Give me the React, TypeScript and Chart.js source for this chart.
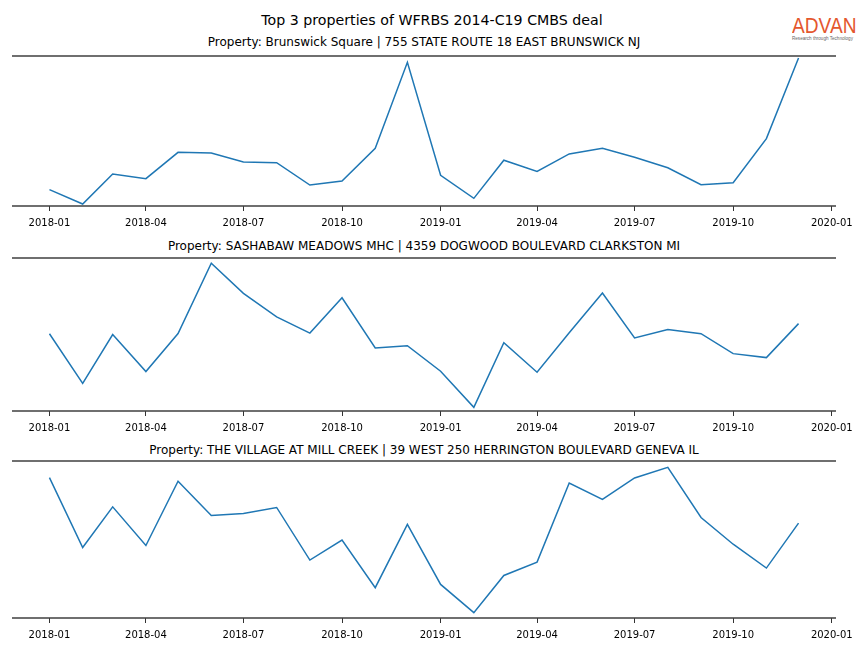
import React, { useEffect, useRef } from 'react';
import { Chart, registerables } from 'chart.js';

Chart.register(...registerables);

const MONTHS = [
  '2018-01', '2018-02', '2018-03', '2018-04', '2018-05', '2018-06',
  '2018-07', '2018-08', '2018-09', '2018-10', '2018-11', '2018-12',
  '2019-01', '2019-02', '2019-03', '2019-04', '2019-05', '2019-06',
  '2019-07', '2019-08', '2019-09', '2019-10', '2019-11', '2019-12',
];

const TICK_LABELS = ['2018-01', '2018-04', '2018-07', '2018-10', '2019-01', '2019-04', '2019-07', '2019-10', '2020-01'];

const BRUNSWICK = [10.9, 1.3, 21.3, 18.2, 35.8, 35.3, 29.3, 28.9, 14.0, 16.7, 38.5, 95.8, 20.5, 5.1, 30.5, 23.1, 34.7, 38.5, 32.5, 25.5, 14.2, 15.5, 44.9, 98.7];
const SASHABAW = [50.5, 18.0, 50.0, 25.8, 50.6, 96.6, 76.9, 61.5, 50.9, 74.0, 41.2, 42.7, 26.0, 2.4, 44.6, 25.3, 51.1, 77.1, 47.7, 53.2, 50.5, 37.5, 34.9, 57.1];
const MILL_CREEK = [89.4, 44.9, 70.8, 46.2, 87.1, 65.3, 66.6, 70.4, 36.9, 49.6, 19.3, 59.6, 21.4, 3.4, 27.1, 35.6, 86.0, 75.5, 89.2, 96.0, 64.0, 47.0, 31.8, 60.4];

const SUPTITLE = 'Top 3 properties of WFRBS 2014-C19 CMBS deal';
const TITLES = [
  'Property: Brunswick Square | 755 STATE ROUTE 18 EAST BRUNSWICK NJ',
  'Property: SASHABAW MEADOWS MHC | 4359 DOGWOOD BOULEVARD CLARKSTON MI',
  'Property: THE VILLAGE AT MILL CREEK | 39 WEST 250 HERRINGTON BOULEVARD GENEVA IL',
];
const SERIES = [BRUNSWICK, SASHABAW, MILL_CREEK];

const LOGO_TEXT = 'ADVAN';
const LOGO_SUB = 'Research through Technology';

function dayOf(ym: string): number {
  const [y, m] = ym.split('-').map(Number);
  return (Date.UTC(y, m - 1, 1) - Date.UTC(2018, 0, 1)) / 86400000;
}

const FONT = "'DejaVu Sans', sans-serif";

// panel geometry: spine top, spine height
const PANELS = [
  { top: 56, h: 150, titleY: 42 },
  { top: 258, h: 153, titleY: 246 },
  { top: 461, h: 157, titleY: 450 },
];

const PAD_TOP = 6;
const AXIS_H = 30;

const spinePlugin = {
  id: 'spines',
  afterDatasetsDraw(chart: any) {
    const { ctx, chartArea } = chart;
    ctx.save();
    ctx.strokeStyle = '#404040';
    ctx.lineWidth = 1.6;
    ctx.beginPath();
    ctx.moveTo(chartArea.left, chartArea.top);
    ctx.lineTo(chartArea.right, chartArea.top);
    ctx.moveTo(chartArea.left, chartArea.bottom);
    ctx.lineTo(chartArea.right, chartArea.bottom);
    ctx.stroke();
    ctx.restore();
  },
};

function Panel({ idx }: { idx: number }) {
  const ref = useRef<HTMLCanvasElement | null>(null);
  const p = PANELS[idx];
  const height = PAD_TOP + p.h + AXIS_H;
  useEffect(() => {
    if (!ref.current) return;
    const xs = MONTHS.map(dayOf);
    const span = xs[xs.length - 1] - xs[0];
    const chart = new Chart(ref.current, {
      type: 'line',
      data: {
        datasets: [
          {
            data: SERIES[idx].map((v, i) => ({ x: xs[i], y: v })),
            borderColor: '#1f77b4',
            borderWidth: 1.5,
            pointRadius: 0,
            tension: 0,
            fill: false,
          },
        ],
      },
      options: {
        animation: false,
        responsive: false,
        maintainAspectRatio: false,
        layout: { padding: { top: PAD_TOP, left: 12, right: 28, bottom: 0 } },
        plugins: { legend: { display: false }, tooltip: { enabled: false }, title: { display: false } },
        scales: {
          x: {
            type: 'linear',
            min: xs[0] - 0.05 * span,
            max: xs[xs.length - 1] + 0.05 * span,
            afterBuildTicks: (scale: any) => {
              scale.ticks = TICK_LABELS.map((t) => ({ value: dayOf(t) }));
            },
            afterFit: (scale: any) => {
              scale.height = AXIS_H;
            },
            ticks: {
              autoSkip: false,
              maxRotation: 0,
              padding: 6,
              color: '#000',
              font: { family: FONT, size: 10 },
              callback: (_v: any, i: number) => TICK_LABELS[i],
            },
            grid: { display: true, drawOnChartArea: false, drawTicks: true, tickLength: 5, color: '#333', lineWidth: 1 },
            border: { display: false },
          },
          y: { display: false, min: 0, max: 100 },
        },
      },
      plugins: [spinePlugin],
    });
    return () => chart.destroy();
  }, [idx]);
  return (
    <canvas
      ref={ref}
      width={864}
      height={height}
      style={{ position: 'absolute', left: 0, top: p.top - PAD_TOP, width: 864, height }}
    />
  );
}

export default function App() {
  return (
    <div style={{ position: 'absolute', left: 0, top: 0, width: 864, height: 648, background: '#fff', overflow: 'hidden', fontFamily: FONT }}>
      <div style={{ position: 'absolute', left: 432, top: 20, transform: 'translate(-50%, -50%)', fontSize: 14.2, whiteSpace: 'nowrap', color: '#000' }}>
        {SUPTITLE}
      </div>
      {PANELS.map((p, i) => (
        <div key={'t' + i} style={{ position: 'absolute', left: 424, top: p.titleY, transform: 'translate(-50%, -50%)', fontSize: 12, whiteSpace: 'nowrap', color: '#000' }}>
          {TITLES[i]}
        </div>
      ))}
      {PANELS.map((_, i) => (
        <Panel key={i} idx={i} />
      ))}
      <div style={{ position: 'absolute', left: 792, top: 15, fontFamily: "'Liberation Sans', Arial, sans-serif", fontSize: 22, lineHeight: '22px', color: '#e4572e', whiteSpace: 'nowrap', transform: 'scaleX(0.87)', transformOrigin: 'left top' }}>
        {LOGO_TEXT}
      </div>
      <div style={{ position: 'absolute', left: 792, top: 36, fontFamily: "'Liberation Sans', Arial, sans-serif", fontSize: 4.6, lineHeight: '5px', color: '#666', whiteSpace: 'nowrap' }}>
        {LOGO_SUB}
      </div>
    </div>
  );
}
